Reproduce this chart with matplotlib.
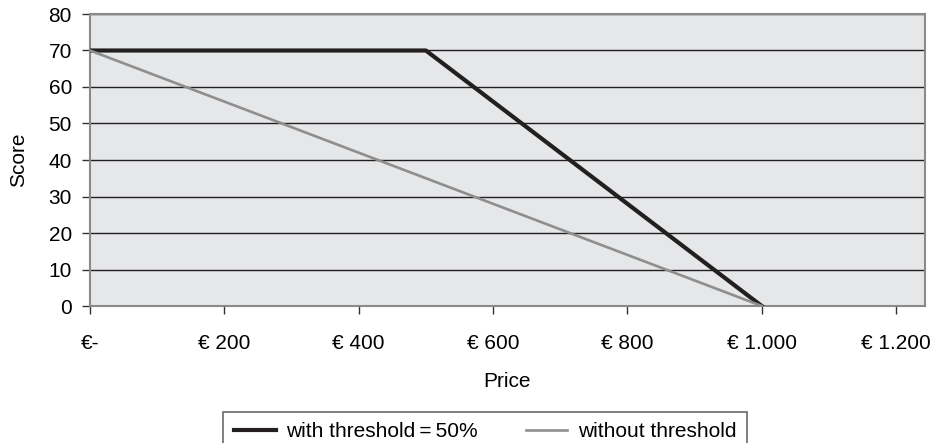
import matplotlib.pyplot as plt

plt.rcParams['font.family'] = ['Liberation Sans', 'DejaVu Sans']

# Data
price = [0, 100, 200, 300, 400, 500, 600, 700, 800, 900, 1000]
with_threshold = [70, 70, 70, 70, 70, 70, 56, 42, 28, 14, 0]
without_threshold = [70, 63, 56, 49, 42, 35, 28, 21, 14, 7, 0]
x_ticks = [0, 200, 400, 600, 800, 1000, 1200]
x_labels = ['€-', '€ 200', '€ 400', '€ 600', '€ 800', '€ 1.000', '€ 1.200']

fig = plt.figure(figsize=(9.32, 4.43), dpi=100)
ax = fig.add_axes([90 / 932, 1 - 306 / 443, 835 / 932, 292 / 443])
ax.set_facecolor('#e6e7e9')

ax.plot(price, with_threshold, color='#231f20', lw=3.0, label='with threshold\u2009=\u200950%',
        zorder=3)
ax.plot(price, without_threshold, color='#8e8e8e', lw=1.9, label='without threshold', zorder=3)

ax.set_xlim(0, 1243)
ax.set_ylim(0, 80)
ax.set_yticks(range(0, 81, 10))
ax.set_xticks(x_ticks)
ax.set_xticklabels(x_labels)
ax.yaxis.grid(True, color='#231f20', lw=1.0)
ax.set_axisbelow(True)

for s in ax.spines.values():
    s.set_color('#8a8a8a')
    s.set_linewidth(1.5)

ax.tick_params(axis='y', length=6, width=1, color='#333333', labelsize=15, pad=7)
ax.tick_params(axis='x', length=6, width=1, color='#333333', labelsize=15, pad=14)

ax.set_xlabel('Price', fontsize=15, labelpad=14)
ax.set_ylabel('Score', fontsize=15, labelpad=15)

leg = fig.legend(loc='upper center', bbox_to_anchor=(485 / 932, 1 - 412 / 443), ncol=2,
                 fontsize=15, frameon=True, fancybox=False, edgecolor='#444444',
                 handlelength=2.0, handletextpad=0.5, columnspacing=2.3,
                 borderpad=0.5, borderaxespad=0)
leg.get_frame().set_linewidth(1.2)

fig.savefig('out.png', dpi=100)
